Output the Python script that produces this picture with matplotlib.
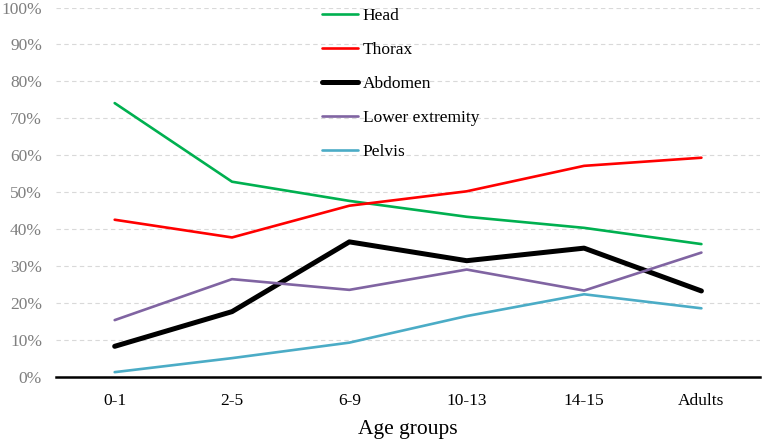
import matplotlib
matplotlib.use("Agg")
import matplotlib.pyplot as plt
from matplotlib.ticker import PercentFormatter

categories = ["0-1", "2-5", "6-9", "10-13", "14-15", "Adults"]
head = [74.1, 52.8, 47.6, 43.3, 40.3, 35.9]
thorax = [42.5, 37.7, 46.3, 50.2, 57.1, 59.3]
abdomen = [8.2, 17.6, 36.5, 31.4, 34.8, 23.2]
lower_extremity = [15.3, 26.4, 23.5, 29.0, 23.3, 33.6]
pelvis = [1.2, 5.0, 9.2, 16.4, 22.3, 18.5]

series = [
    ("Head", head, "#00B050", 1.9),
    ("Thorax", thorax, "#FF0000", 1.9),
    ("Abdomen", abdomen, "#000000", 3.6),
    ("Lower extremity", lower_extremity, "#8064A2", 1.9),
    ("Pelvis", pelvis, "#4BACC6", 1.9),
]

plt.rcParams['font.family'] = ['Liberation Serif', 'DejaVu Serif']

fig = plt.figure(figsize=(7.62, 4.42), dpi=100)
ax = fig.add_axes([0.0735, 0.148, 0.924, 0.835])

x = list(range(len(categories)))
for name, vals, col, lw in series:
    ax.plot(x, vals, color=col, lw=lw, label=name, solid_capstyle='round')

ax.set_xlim(-0.5, len(categories) - 0.5)
ax.set_ylim(0, 100)
ax.set_yticks(range(0, 101, 10))
ax.yaxis.set_major_formatter(PercentFormatter(decimals=0))
ax.set_xticks(x)
ax.set_xticklabels(categories)
ax.grid(axis='y', color='#D9D9D9', linestyle=(0, (4, 3)), lw=0.8)
ax.set_axisbelow(True)
for s in ['top', 'right', 'left']:
    ax.spines[s].set_visible(False)
ax.spines['bottom'].set_linewidth(1.8)
ax.spines['bottom'].set_color('black')
ax.tick_params(axis='y', length=0, labelsize=12.5, labelcolor='#7F7F7F', pad=10)
ax.tick_params(axis='x', length=0, labelsize=12.5, labelcolor='black', pad=12)
ax.set_xlabel("Age groups", fontsize=15.5, labelpad=8)

leg = fig.legend(loc='upper left', bbox_to_anchor=(322 / 762, 1 - 8 / 442),
                 bbox_transform=fig.transFigure, borderpad=0, borderaxespad=0,
                 frameon=False, fontsize=12.5, labelspacing=1.02, handlelength=2.1,
                 handletextpad=0.25)

fig.savefig("out.png", dpi=100)
